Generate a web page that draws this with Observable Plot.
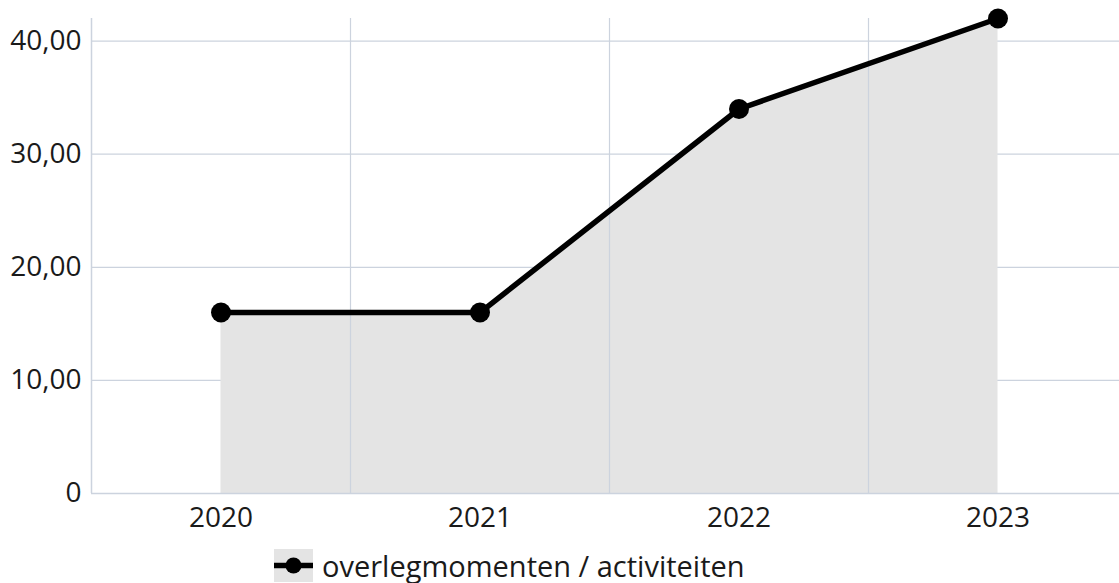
<!DOCTYPE html>
<html>
<head>
<meta charset="utf-8">
<script src="https://cdn.jsdelivr.net/npm/d3@7"></script>
<script src="https://cdn.jsdelivr.net/npm/@observablehq/plot@0.6"></script>
<style>
  html, body { margin: 0; padding: 0; background: #fff; }
  body { width: 1119px; height: 583px; overflow: hidden; font-family: "Open Sans", sans-serif; }
  #legend { position: relative; height: 43px; font-size: 29px; color: #1a1a1a; }
  #legend .item { position: absolute; left: 274px; top: 9px; display: flex; align-items: center; white-space: nowrap; }
  #legend svg { display: block; }
  #legend span { margin-left: 9px; line-height: 31px; }
</style>
</head>
<body>
<div id="chart"></div>
<div id="legend"></div>
<script>
const years = [2020, 2021, 2022, 2023];
const values = [16, 16, 34, 42];
const yTicks = [0, 10, 20, 30, 40];
const seriesName = "overlegmomenten / activiteiten";

const data = years.map((year, i) => ({year, value: values[i]}));
const bandEdges = years.slice(1).map(y => y - 0.5);
const fmt = d => d === 0 ? "0" : d.toFixed(2).replace(".", ",");

const gridColor = "#ccd3de";
const W = 1119, H = 540;
const mL = 91, mT = 18, mB = 47;
const x0 = years[0] - 0.5, x1 = years[years.length - 1] + 0.5;

const plot = Plot.plot({
  width: W,
  height: H,
  marginLeft: mL,
  marginRight: 0,
  marginTop: mT,
  marginBottom: mB,
  style: {fontFamily: "Open Sans, sans-serif", fontSize: "28px", color: "#1a1a1a", background: "#fff"},
  x: {type: "linear", domain: [x0, x1], range: [mL, mL + 4 * 259], label: null},
  y: {domain: [0, 42], range: [H - mB, mT], label: null},
  marks: [
    Plot.ruleY(yTicks.slice(1), {stroke: gridColor, strokeWidth: 1.2, x1: x0, x2: x1}),
    Plot.areaY(data, {x: "year", y: "value", fill: "#e4e4e4"}),
    Plot.ruleX(bandEdges, {stroke: gridColor, strokeWidth: 1.2, y1: 0, y2: 42}),
    Plot.ruleY([0], {stroke: gridColor, strokeWidth: 1.5, x1: x0, x2: x1}),
    Plot.ruleX([x0], {stroke: gridColor, strokeWidth: 1.5, y1: 0, y2: 42}),
    Plot.axisY({ticks: yTicks, tickFormat: fmt, tickSize: 0, tickPadding: 10, fontSize: 28, fill: "#1a1a1a", label: null}),
    Plot.axisX({ticks: years, tickFormat: d => String(d), tickSize: 0, tickPadding: 14, fontSize: 28, fill: "#1a1a1a", label: null}),
    Plot.lineY(data, {x: "year", y: "value", stroke: "#000", strokeWidth: 5.5}),
    Plot.dot(data, {x: "year", y: "value", r: 10, fill: "#000", stroke: "none"})
  ]
});
document.getElementById("chart").appendChild(plot);

const legend = document.getElementById("legend");
legend.innerHTML = `<div class="item">
  <svg width="39" height="33" viewBox="0 0 39 33">
    <rect x="0" y="0" width="39" height="33" fill="#e4e4e4"></rect>
    <line x1="0" y1="16.5" x2="39" y2="16.5" stroke="#000" stroke-width="5.5"></line>
    <circle cx="19.5" cy="16.5" r="8" fill="#000"></circle>
  </svg>
  <span></span>
</div>`;
legend.querySelector("span").textContent = seriesName;
</script>
</body>
</html>
